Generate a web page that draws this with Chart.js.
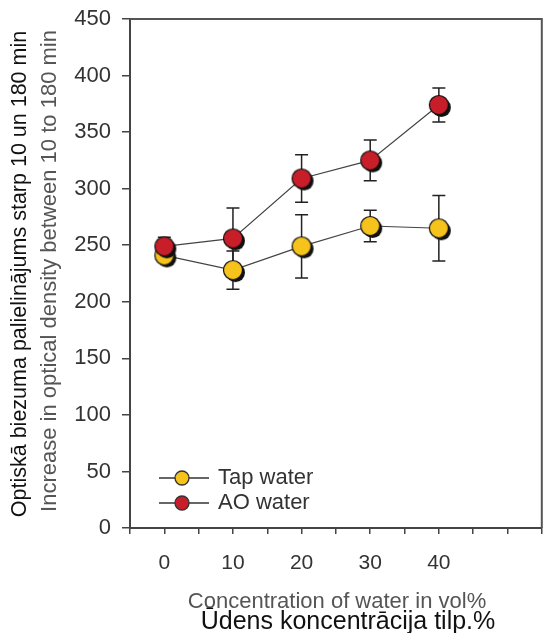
<!DOCTYPE html>
<html lang="lv">
<head>
<meta charset="UTF-8">
<title>Optical density</title>
<script src="https://cdn.jsdelivr.net/npm/chart.js"></script>
<style>
  body { margin: 0; background: #fff; }
  #wrap { position: relative; width: 547px; height: 633px; }
</style>
</head>
<body>
<div id="wrap"><canvas id="myChart" width="547" height="633"></canvas></div>
<script>
// data
const concentration = [0, 10, 20, 30, 40];
const tapWater = [241, 228, 249, 267, 265];
const tapError = [4, 17, 28, 14, 29];
const aoWater = [249, 256, 309, 325, 374];
const aoError = [8, 27, 21, 18, 15];
const seriesNames = ['Tap water', 'AO water'];
const yTitleLv = 'Optiskā biezuma palielinājums starp 10 un 180 min';
const yTitleEn = 'Increase in optical density between 10 to 180 min';
const xTitleEn = 'Concentration of water in vol%';
const xTitleLv = 'Ūdens koncentrācija tilp.%';

const YELLOW = '#f6c21c';
const RED = '#c81e2a';
const FONT = 'Arial, "Liberation Sans", sans-serif';

// marker with a dark drop shadow
function makeMarker(color) {
    const c = document.createElement('canvas');
    c.width = 30; c.height = 30;
    const g = c.getContext('2d');
    g.fillStyle = '#111';
    g.beginPath(); g.arc(17.5, 17.5, 9.5, 0, Math.PI * 2); g.fill();
    g.fillStyle = color;
    g.strokeStyle = '#111';
    g.lineWidth = 1.2;
    g.beginPath(); g.arc(15, 15, 9.5, 0, Math.PI * 2); g.fill(); g.stroke();
    return c;
}

const pts = (vals) => concentration.map((x, i) => ({ x: x, y: vals[i] }));

const errorBars = {
    id: 'errorBars',
    beforeDatasetsDraw(chart) {
        const ctx = chart.ctx;
        const xs = chart.scales.x, ys = chart.scales.y;
        ctx.save();
        ctx.strokeStyle = '#222';
        ctx.lineWidth = 1.5;
        chart.data.datasets.forEach(ds => {
            ds.data.forEach((p, i) => {
                const px = xs.getPixelForValue(p.x);
                const top = ys.getPixelForValue(p.y + ds.errors[i]);
                const bot = ys.getPixelForValue(p.y - ds.errors[i]);
                ctx.beginPath();
                ctx.moveTo(px, top); ctx.lineTo(px, bot);
                ctx.moveTo(px - 6.5, top); ctx.lineTo(px + 6.5, top);
                ctx.moveTo(px - 6.5, bot); ctx.lineTo(px + 6.5, bot);
                ctx.stroke();
            });
        });
        ctx.restore();
    }
};

const extras = {
    id: 'extras',
    afterDraw(chart) {
        const ctx = chart.ctx;
        const a = chart.chartArea;
        ctx.save();
        // frame top and right
        ctx.strokeStyle = '#555';
        ctx.lineWidth = 2;
        ctx.beginPath();
        ctx.moveTo(a.left, a.top); ctx.lineTo(a.right, a.top); ctx.lineTo(a.right, a.bottom);
        ctx.stroke();

        // legend
        const rows = [[seriesNames[0], YELLOW, 478], [seriesNames[1], RED, 503]];
        rows.forEach(r => {
            ctx.strokeStyle = '#333';
            ctx.lineWidth = 1.3;
            ctx.beginPath(); ctx.moveTo(159, r[2]); ctx.lineTo(209, r[2]); ctx.stroke();
            ctx.fillStyle = r[1];
            ctx.beginPath(); ctx.arc(182, r[2], 7, 0, Math.PI * 2); ctx.fill(); ctx.stroke();
            ctx.fillStyle = '#333';
            ctx.font = '22px ' + FONT;
            ctx.textAlign = 'left';
            ctx.textBaseline = 'middle';
            ctx.fillText(r[0], 218, r[2]);
        });

        // y titles
        ctx.textAlign = 'center';
        ctx.textBaseline = 'middle';
        ctx.save();
        ctx.translate(20, 274);
        ctx.rotate(-Math.PI / 2);
        ctx.fillStyle = '#111';
        ctx.font = '21.5px ' + FONT;
        ctx.fillText(yTitleLv, 0, 0);
        ctx.restore();
        ctx.save();
        ctx.translate(50, 271);
        ctx.rotate(-Math.PI / 2);
        ctx.fillStyle = '#555';
        ctx.font = '22px ' + FONT;
        ctx.fillText(yTitleEn, 0, 0);
        ctx.restore();

        // x titles
        ctx.fillStyle = '#555';
        ctx.font = '22px ' + FONT;
        ctx.fillText(xTitleEn, 337, 602);
        ctx.fillStyle = '#111';
        ctx.font = '25px ' + FONT;
        ctx.fillText(xTitleLv, 348, 622);
        ctx.restore();
    }
};

new Chart(document.getElementById('myChart'), {
    type: 'scatter',
    data: {
        datasets: [
            {
                label: seriesNames[0],
                data: pts(tapWater),
                errors: tapError,
                showLine: true,
                borderColor: '#444',
                borderWidth: 1.2,
                pointStyle: makeMarker(YELLOW),
                order: 1
            },
            {
                label: seriesNames[1],
                data: pts(aoWater),
                errors: aoError,
                showLine: true,
                borderColor: '#444',
                borderWidth: 1.2,
                pointStyle: makeMarker(RED),
                order: 0
            }
        ]
    },
    options: {
        responsive: false,
        animation: false,
        layout: { padding: { left: 0, right: 3, top: 19, bottom: 0 } },
        plugins: {
            legend: { display: false },
            tooltip: { enabled: false }
        },
        scales: {
            x: {
                type: 'linear',
                min: -5,
                max: 55,
                afterFit: (s) => { s.height = 105; s.paddingLeft = 0; s.paddingRight = 0; },
                border: { color: '#444', width: 2 },
                grid: { drawOnChartArea: false, drawTicks: true, tickLength: 6, color: '#444', lineWidth: 1.5 },
                ticks: {
                    stepSize: 5,
                    padding: 17,
                    color: '#333',
                    font: { size: 21, family: FONT },
                    callback: (v) => (v >= 0 && v <= 40 && v % 10 === 0) ? String(v) : ''
                }
            },
            y: {
                min: 0,
                max: 450,
                afterFit: (s) => { s.width = 130; s.paddingTop = 0; s.paddingBottom = 0; },
                border: { color: '#444', width: 2 },
                grid: { drawOnChartArea: false, drawTicks: true, tickLength: 8, color: '#444', lineWidth: 1.5 },
                ticks: {
                    stepSize: 50,
                    padding: 11,
                    color: '#333',
                    font: { size: 22, family: FONT }
                }
            }
        }
    },
    plugins: [errorBars, extras]
});
</script>
</body>
</html>
